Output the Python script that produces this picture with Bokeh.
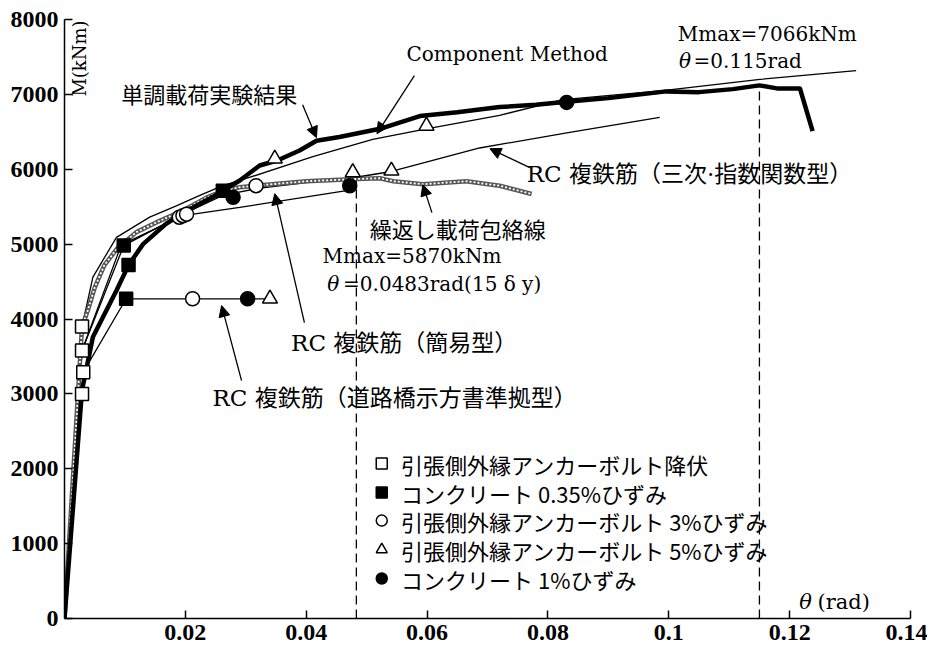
from bokeh.plotting import figure
from bokeh.models import FixedTicker, Arrow, NormalHead, Range1d, CustomJSTickFormatter
from bokeh.core.properties import value
from bokeh.embed import file_html
from bokeh.resources import INLINE
import math

# ---------------- data ----------------
exp_theta = [0, 0.0029, 0.0047, 0.0086, 0.0106, 0.013, 0.0168, 0.0201, 0.025, 0.029,
             0.0323, 0.0353, 0.0389, 0.0417, 0.0455, 0.0522, 0.0588, 0.065, 0.072, 0.078,
             0.0831, 0.09, 0.0996, 0.105, 0.1106, 0.115, 0.1179, 0.1217, 0.1238]
exp_M = [0, 3050, 3760, 4380, 4720, 5000, 5270, 5440, 5650, 5850,
         6050, 6120, 6250, 6380, 6430, 6540, 6710, 6760, 6830, 6860,
         6900, 6950, 7040, 7030, 7070, 7120, 7080, 7080, 6510]

comp_theta = [0, 0.0029, 0.0047, 0.0086, 0.0141, 0.0185, 0.0224, 0.0262, 0.0306,
              0.0411, 0.051, 0.0599, 0.072, 0.0825, 0.099, 0.1151, 0.131]
comp_M = [0, 3900, 4560, 5090, 5360, 5510, 5650, 5780, 5890,
          6170, 6400, 6540, 6720, 6930, 7050, 7200, 7316]

cyc_theta = [0, 0.0029, 0.0038, 0.0050, 0.0066, 0.0088, 0.0119, 0.0152, 0.0196, 0.0235,
             0.0262, 0.029, 0.0315, 0.040, 0.0483, 0.0522, 0.0544, 0.0593, 0.0665, 0.072, 0.0773]
cyc_M = [0, 3900, 4100, 4420, 4720, 4950, 5160, 5290, 5450, 5620,
         5710, 5760, 5780, 5840, 5870, 5880, 5840, 5800, 5840, 5780, 5670]

simple_theta = [0, 0.0029, 0.0094, 0.0196, 0.029, 0.0472]
simple_M = [0, 3580, 4990, 5380, 5490, 5720]

cubic_theta = [0, 0.0029, 0.0098, 0.0196, 0.0262, 0.0317, 0.040, 0.048, 0.0541, 0.0687, 0.0836, 0.0985]
cubic_M = [0, 3580, 4980, 5400, 5650, 5740, 5820, 5890, 5970, 6284, 6493, 6693]

road_theta = [0, 0.0031, 0.0102, 0.0212, 0.0303, 0.034]
road_M = [0, 3290, 4270, 4270, 4270, 4270]

# event markers
sq_open_theta = [0.0029, 0.0031, 0.0029, 0.0029]
sq_open_M = [3000, 3290, 3580, 3900]
sq_fill_theta = [0.0098, 0.0106, 0.0102, 0.0262]
sq_fill_M = [4980, 4720, 4270, 5714]
ci_open_theta = [0.0190, 0.0196, 0.0202, 0.0212, 0.0317]
ci_open_M = [5360, 5380, 5400, 4270, 5781]
tri_theta = [0.0348, 0.0599, 0.0477, 0.0541, 0.034]
tri_M = [6140, 6580, 5958, 5981, 4270]
ci_fill_theta = [0.0831, 0.0472, 0.0303, 0.0279]
ci_fill_M = [6893, 5781, 4270, 5625]

mmax_theta = [0.0483, 0.115]
mmax_M = [5870, 7066]

x_ticks = [0.02, 0.04, 0.06, 0.08, 0.10, 0.12, 0.14]
y_ticks = [0, 1000, 2000, 3000, 4000, 5000, 6000, 7000, 8000]

legend_labels = ["引張側外縁アンカーボルト降伏", "コンクリート 0.35%ひずみ",
                 "引張側外縁アンカーボルト 3%ひずみ", "引張側外縁アンカーボルト 5%ひずみ",
                 "コンクリート 1%ひずみ"]

# ---------------- figure ----------------
p = figure(width=927, height=653, x_range=Range1d(0, 0.14), y_range=Range1d(0, 8000),
           output_backend="svg", toolbar_location=None,
           min_border_left=64, min_border_right=17, min_border_top=19, min_border_bottom=35)
p.grid.visible = False
p.outline_line_color = None
p.background_fill_color = "white"

for ax in (p.xaxis[0], p.yaxis[0]):
    ax.major_tick_in = 8
    ax.major_tick_out = 0
    ax.minor_tick_in = 0
    ax.minor_tick_out = 0
    ax.axis_line_width = 1.5
    ax.major_tick_line_width = 1.5
    ax.major_label_text_font = "Liberation Serif"
    ax.major_label_text_font_style = "bold"
    ax.major_label_text_font_size = "24px"
    ax.major_label_text_color = "black"
p.xaxis.ticker = FixedTicker(ticks=x_ticks)
p.yaxis.ticker = FixedTicker(ticks=y_ticks)
p.xaxis.formatter = CustomJSTickFormatter(code="return String(Math.round(tick*100)/100);")
p.xaxis.major_label_standoff = 6
p.yaxis.major_label_standoff = 6

SERIF = value("'DejaVu Serif', 'Noto Sans CJK JP'")
JP = value("'Noto Sans CJK JP'")

# dashed lines at Mmax
for t, m in zip(mmax_theta, mmax_M):
    p.line([t, t], [0, m], line_color="black", line_width=1.3, line_dash="9 5")

# curves
p.line(road_theta, road_M, line_color="black", line_width=1.3)
p.line(simple_theta, simple_M, line_color="black", line_width=1.3)
p.line(cubic_theta, cubic_M, line_color="black", line_width=1.3)
p.line(comp_theta, comp_M, line_color="black", line_width=1.3)
p.line(cyc_theta, cyc_M, line_color="#555555", line_width=4.5)
p.line(cyc_theta, cyc_M, line_color="white", line_width=1.8, line_dash="2 2")
p.line(exp_theta, exp_M, line_color="black", line_width=4.5, line_join="round")

# markers
p.scatter(sq_open_theta, sq_open_M, marker="square", size=13, fill_color="white", line_color="black", line_width=1.5)
p.scatter(sq_fill_theta, sq_fill_M, marker="square", size=13, fill_color="black", line_color="black", line_width=1.5)
p.scatter(ci_open_theta, ci_open_M, marker="circle", size=14, fill_color="white", line_color="black", line_width=1.5)
p.scatter(tri_theta, tri_M, marker="triangle", size=15, fill_color="white", line_color="black", line_width=1.5)
p.scatter(ci_fill_theta, ci_fill_M, marker="circle", size=14, fill_color="black", line_color="black", line_width=1.5)

# arrows
arrows = [
    (0.0394, 6862, 0.0417, 6422),
    (0.0579, 7250, 0.0517, 6475),
    (0.0770, 6021, 0.0704, 6275),
    (0.0608, 5421, 0.0593, 5794),
    (0.0397, 3952, 0.0348, 5674),
    (0.0293, 3178, 0.0260, 4179),
]
for x0, y0, x1, y1 in arrows:
    p.add_layout(Arrow(end=NormalHead(size=11, fill_color="black", line_color="black"),
                       x_start=x0, y_start=y0, x_end=x1, y_end=y1,
                       line_color="black", line_width=1.3))

# texts
def txt(x, y, s, size="20px", font=SERIF, style="normal", align="left", angle=0.0):
    p.text(x=[x], y=[y], text=[s], text_font=font, text_font_size=size, text_font_style=style,
           text_align=align, text_baseline="middle", text_color="black", angle=angle)

txt(0.0566, 7543, "Component Method")
txt(0.0094, 7023, "単調載荷実験結果", font=JP, size="22px")
txt(0.1015, 7810, "Mmax=7066kNm")
txt(0.1017, 7450, "θ", style="italic")
txt(0.1041, 7450, "=0.115rad")
txt(0.0765, 5941, "RC 複鉄筋（三次·指数関数型）", size="23px")
txt(0.0505, 5220, "繰返し載荷包絡線", font=JP, size="22px")
txt(0.0427, 4846, "Mmax=5870kNm")
txt(0.0435, 4473, "θ", style="italic")
txt(0.0461, 4473, "=0.0483rad(15 δ y)")
txt(0.0375, 3685, "RC 複鉄筋（簡易型）", size="23px")
txt(0.0245, 2951, "RC 複鉄筋（道路橋示方書準拠型）", size="23px")
txt(0.1216, 214, "θ", style="italic", size="21px")
txt(0.1246, 214, "(rad)", size="21px")
txt(0.0024, 7479, "M(kNm)", size="18px", align="center", angle=math.pi / 2)

# legend
leg_theta = 0.0525
leg_text_theta = 0.0557
leg_M = [2069, 1682, 1308, 921, 534]
leg_markers = [("square", "white"), ("square", "black"), ("circle", "white"),
               ("triangle", "white"), ("circle", "black")]
for (mk, fc), m, lab in zip(leg_markers, leg_M, legend_labels):
    p.scatter([leg_theta], [m], marker=mk, size=11, fill_color=fc, line_color="black", line_width=1.5)
    txt(leg_text_theta, m, lab, font=JP, size="22px")

open("out.html", "w").write(file_html(p, INLINE))
